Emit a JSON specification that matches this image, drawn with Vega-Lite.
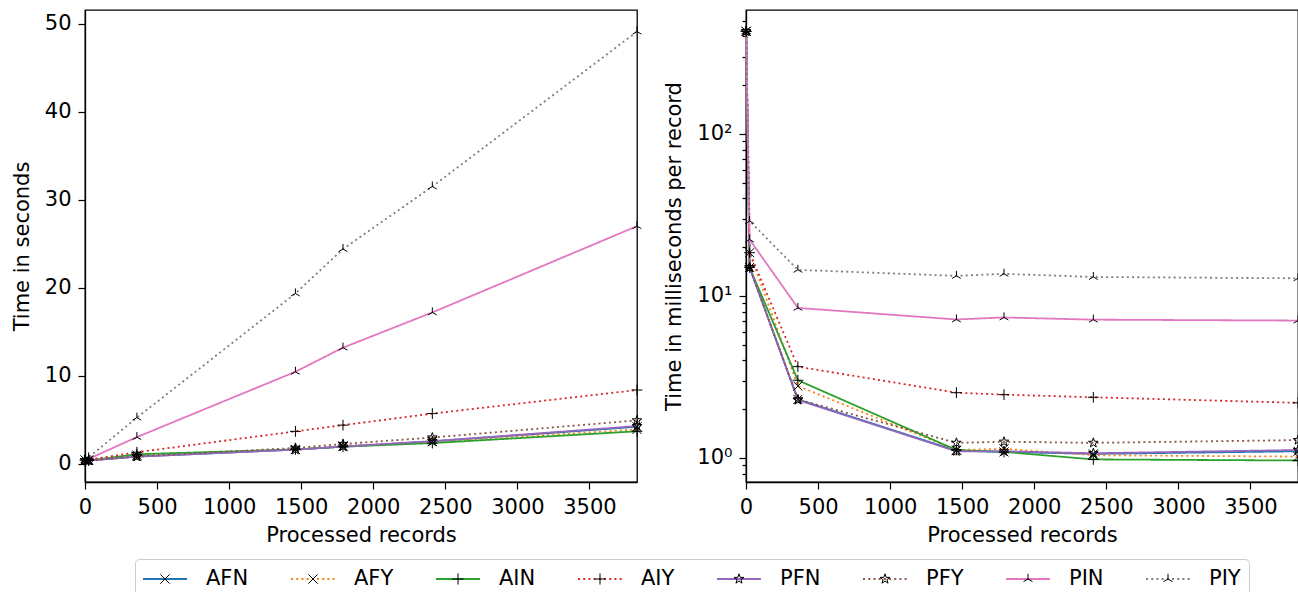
{
  "$schema": "https://vega.github.io/schema/vega-lite/v6.json",
  "padding": {"left": 10, "top": 9, "right": 0, "bottom": 0},
  "bounds": "flush",
  "spacing": 109,
  "config": {
    "font": "DejaVu Sans",
    "view": {"stroke": "black", "strokeWidth": 1.3},
    "axis": {
      "labelFont": "DejaVu Sans", "titleFont": "DejaVu Sans",
      "labelFontSize": 21, "titleFontSize": 21, "titleFontWeight": "normal",
      "labelColor": "black", "titleColor": "black", "labelFlush": false, "labelOverlap": false,
      "tickColor": "black", "domainColor": "black", "domainWidth": 1.3,
      "tickWidth": 1.2, "tickSize": 7, "labelPadding": 7, "titlePadding": 12, "grid": false
    },
    "axisX": {"titlePadding": 7},
    "legend": {"labelFont": "DejaVu Sans"}
  },
  "datasets": {
    "runs": [
      {"series": "AFN", "records": 1, "seconds": 0.43, "ms": 430},
      {"series": "AFN", "records": 25, "seconds": 0.375, "ms": 15.0},
      {"series": "AFN", "records": 360, "seconds": 0.83, "ms": 2.30},
      {"series": "AFN", "records": 1460, "seconds": 1.62, "ms": 1.11},
      {"series": "AFN", "records": 1790, "seconds": 1.95, "ms": 1.09},
      {"series": "AFN", "records": 2410, "seconds": 2.55, "ms": 1.06},
      {"series": "AFN", "records": 3830, "seconds": 4.21, "ms": 1.10},
      {"series": "AFY", "records": 1, "seconds": 0.43, "ms": 430},
      {"series": "AFY", "records": 25, "seconds": 0.46, "ms": 18.5},
      {"series": "AFY", "records": 360, "seconds": 1.0, "ms": 2.78},
      {"series": "AFY", "records": 1460, "seconds": 1.64, "ms": 1.12},
      {"series": "AFY", "records": 1790, "seconds": 2.04, "ms": 1.14},
      {"series": "AFY", "records": 2410, "seconds": 2.51, "ms": 1.04},
      {"series": "AFY", "records": 3830, "seconds": 3.91, "ms": 1.02},
      {"series": "AIN", "records": 1, "seconds": 0.43, "ms": 430},
      {"series": "AIN", "records": 25, "seconds": 0.375, "ms": 15.0},
      {"series": "AIN", "records": 360, "seconds": 1.09, "ms": 3.02},
      {"series": "AIN", "records": 1460, "seconds": 1.64, "ms": 1.12},
      {"series": "AIN", "records": 1790, "seconds": 1.95, "ms": 1.09},
      {"series": "AIN", "records": 2410, "seconds": 2.36, "ms": 0.98},
      {"series": "AIN", "records": 3830, "seconds": 3.70, "ms": 0.965},
      {"series": "AIY", "records": 1, "seconds": 0.43, "ms": 430},
      {"series": "AIY", "records": 25, "seconds": 0.46, "ms": 18.5},
      {"series": "AIY", "records": 360, "seconds": 1.32, "ms": 3.66},
      {"series": "AIY", "records": 1460, "seconds": 3.69, "ms": 2.53},
      {"series": "AIY", "records": 1790, "seconds": 4.40, "ms": 2.46},
      {"series": "AIY", "records": 2410, "seconds": 5.71, "ms": 2.37},
      {"series": "AIY", "records": 3830, "seconds": 8.39, "ms": 2.19},
      {"series": "PFN", "records": 1, "seconds": 0.43, "ms": 430},
      {"series": "PFN", "records": 25, "seconds": 0.375, "ms": 15.0},
      {"series": "PFN", "records": 360, "seconds": 0.82, "ms": 2.28},
      {"series": "PFN", "records": 1460, "seconds": 1.61, "ms": 1.10},
      {"series": "PFN", "records": 1790, "seconds": 1.97, "ms": 1.10},
      {"series": "PFN", "records": 2410, "seconds": 2.58, "ms": 1.07},
      {"series": "PFN", "records": 3830, "seconds": 4.29, "ms": 1.12},
      {"series": "PFY", "records": 1, "seconds": 0.43, "ms": 430},
      {"series": "PFY", "records": 25, "seconds": 0.375, "ms": 15.0},
      {"series": "PFY", "records": 360, "seconds": 0.83, "ms": 2.30},
      {"series": "PFY", "records": 1460, "seconds": 1.81, "ms": 1.24},
      {"series": "PFY", "records": 1790, "seconds": 2.26, "ms": 1.26},
      {"series": "PFY", "records": 2410, "seconds": 2.99, "ms": 1.24},
      {"series": "PFY", "records": 3830, "seconds": 4.94, "ms": 1.29},
      {"series": "PIN", "records": 1, "seconds": 0.43, "ms": 430},
      {"series": "PIN", "records": 25, "seconds": 0.56, "ms": 22.3},
      {"series": "PIN", "records": 360, "seconds": 3.04, "ms": 8.44},
      {"series": "PIN", "records": 1460, "seconds": 10.46, "ms": 7.16},
      {"series": "PIN", "records": 1790, "seconds": 13.2, "ms": 7.37},
      {"series": "PIN", "records": 2410, "seconds": 17.2, "ms": 7.14},
      {"series": "PIN", "records": 3830, "seconds": 27.0, "ms": 7.05},
      {"series": "PIY", "records": 1, "seconds": 0.43, "ms": 430},
      {"series": "PIY", "records": 25, "seconds": 0.73, "ms": 29.0},
      {"series": "PIY", "records": 360, "seconds": 5.25, "ms": 14.5},
      {"series": "PIY", "records": 1460, "seconds": 19.35, "ms": 13.3},
      {"series": "PIY", "records": 1790, "seconds": 24.4, "ms": 13.7},
      {"series": "PIY", "records": 2410, "seconds": 31.5, "ms": 13.1},
      {"series": "PIY", "records": 3830, "seconds": 49.1, "ms": 12.85}
    ]
  },
  "hconcat": [
    {
      "width": 552,
      "height": 472,
      "data": {"name": "runs"},
      "encoding": {
        "x": {"field": "records", "type": "quantitative", "title": "Processed records",
              "scale": {"domain": [0, 3830], "nice": false, "zero": false},
              "axis": {"values": [0, 500, 1000, 1500, 2000, 2500, 3000, 3500], "format": "d"}},
        "y": {"field": "seconds", "type": "quantitative", "title": "Time in seconds",
              "scale": {"domain": [-2.06, 51.55], "nice": false, "zero": false},
              "axis": {"values": [0, 10, 20, 30, 40, 50], "format": "d"}}
      },
      "layer": [
        {
          "mark": {"type": "line", "strokeWidth": 1.8},
          "encoding": {
            "color": {"field": "series", "type": "nominal",
                      "scale": {"range": ["#1f77b4", "#ff7f0e", "#2ca02c", "#d62728", "#9467bd", "#8c564b", "#e377c2", "#7f7f7f"]},
                      "legend": {"title": null, "orient": "none", "legendX": 50, "legendY": 549, "direction": "horizontal", "columns": 8,
                                 "symbolType": "M-1.22,0L1.22,0", "symbolSize": 1296, "symbolOffset": 3, "symbolStrokeWidth": 1.8, "clipHeight": 24,
                                 "labelFontSize": 21, "labelColor": "black", "labelOffset": 22, "columnPadding": 42, "padding": 8,
                                 "strokeColor": "#cccccc", "cornerRadius": 4, "fillColor": "white", "zindex": 0}},
            "strokeDash": {"field": "series", "type": "nominal",
                           "scale": {"range": [[1, 0], [2, 3.2], [1, 0], [2, 3.2], [1, 0], [2, 3.2], [1, 0], [2, 3.2]]},
                           "legend": {"title": null, "orient": "none", "legendX": 50, "legendY": 549, "direction": "horizontal", "columns": 8,
                                 "symbolType": "M-1.22,0L1.22,0", "symbolSize": 1296, "symbolOffset": 3, "symbolStrokeWidth": 1.8, "clipHeight": 24,
                                 "labelFontSize": 21, "labelColor": "black", "labelOffset": 22, "columnPadding": 42, "padding": 8,
                                 "strokeColor": "#cccccc", "cornerRadius": 4, "fillColor": "white", "zindex": 0}}
          }
        },
        {
          "mark": {"type": "point", "filled": false, "stroke": "black", "strokeWidth": 1, "size": 1296, "opacity": 1},
          "encoding": {
            "shape": {"field": "series", "type": "nominal",
                      "scale": {"domain": ["AFN", "AFY", "AIN", "AIY", "PFN", "PFY", "PIN", "PIY"],
                                "range": [
                                  "M-0.25,-0.25L0.25,0.25M-0.25,0.25L0.25,-0.25",
                                  "M-0.25,-0.25L0.25,0.25M-0.25,0.25L0.25,-0.25",
                                  "M-0.3,0L0.3,0M0,-0.3L0,0.3",
                                  "M-0.3,0L0.3,0M0,-0.3L0,0.3",
                                  "M0,-0.28L0.0647,-0.089L0.266,-0.0865L0.1046,0.034L0.1646,0.2265L0,0.11L-0.1646,0.2265L-0.1046,0.034L-0.266,-0.0865L-0.0647,-0.089Z",
                                  "M0,-0.28L0.0647,-0.089L0.266,-0.0865L0.1046,0.034L0.1646,0.2265L0,0.11L-0.1646,0.2265L-0.1046,0.034L-0.266,-0.0865L-0.0647,-0.089Z",
                                  "M0,0L0,-0.28M0,0L-0.2425,0.14M0,0L0.2425,0.14",
                                  "M0,0L0,-0.28M0,0L-0.2425,0.14M0,0L0.2425,0.14"
                                ]},
                      "legend": {"title": null, "orient": "none", "legendX": 50, "legendY": 549, "direction": "horizontal", "columns": 8,
                                 "symbolSize": 1369, "symbolOffset": 3, "symbolStrokeWidth": 1, "symbolStrokeColor": "black", "symbolFillColor": "transparent", "clipHeight": 24,
                                 "labelFontSize": 21, "labelOpacity": 0, "labelOffset": 22, "columnPadding": 42, "padding": 8,
                                 "strokeColor": "transparent", "fillColor": "transparent", "zindex": 5}}
          }
        }
      ]
    },
    {
      "width": 552,
      "height": 472,
      "data": {"name": "runs"},
      "encoding": {
        "x": {"field": "records", "type": "quantitative", "title": "Processed records",
              "scale": {"domain": [0, 3830], "nice": false, "zero": false},
              "axis": {"values": [0, 500, 1000, 1500, 2000, 2500, 3000, 3500], "format": "d"}}
      },
      "resolve": {"axis": {"y": "independent"}},
      "layer": [
        {
          "mark": {"type": "line", "strokeWidth": 1.8},
          "encoding": {
            "y": {"field": "ms", "type": "quantitative", "title": "Time in milliseconds per record",
                  "scale": {"type": "log", "domain": [0.711, 582], "nice": false},
                  "axis": {"orient": "left", "values": [1, 10, 100],
                           "labelExpr": "datum.value == 1 ? '10⁰' : datum.value == 10 ? '10¹' : '10²'"}},
            "color": {"field": "series", "type": "nominal"},
            "strokeDash": {"field": "series", "type": "nominal"}
          }
        },
        {
          "mark": {"type": "point", "filled": false, "stroke": "black", "strokeWidth": 1, "size": 1296, "opacity": 1},
          "encoding": {
            "y": {"field": "ms", "type": "quantitative",
                  "axis": {"orient": "left", "title": null, "labels": false, "domain": false, "tickSize": 4,
                           "values": [0.8, 0.9, 2, 3, 4, 5, 6, 7, 8, 9, 20, 30, 40, 50, 60, 70, 80, 90, 200, 300, 400, 500]}},
            "shape": {"field": "series", "type": "nominal"}
          }
        }
      ]
    }
  ]
}
